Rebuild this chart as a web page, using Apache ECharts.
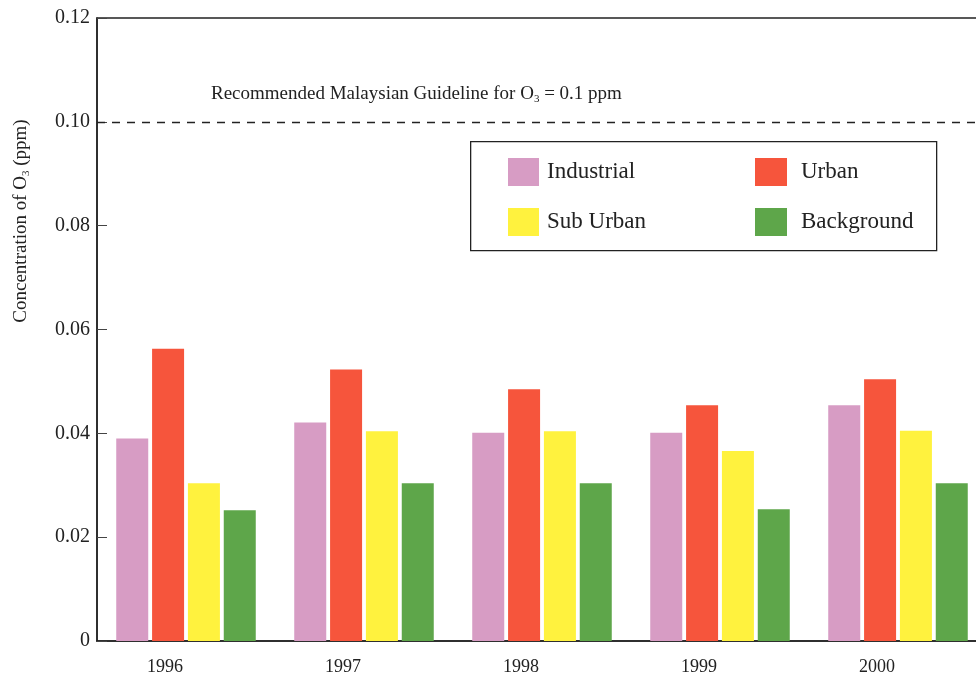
<!DOCTYPE html>
<html>
<head>
<meta charset="utf-8">
<script src="https://cdn.jsdelivr.net/npm/echarts@6/dist/echarts.min.js"></script>
<style>
html,body{margin:0;padding:0;background:#fff;}
#c{width:976px;height:686px;}
</style>
</head>
<body>
<div id="c"></div>
<script>
const years = ['1996', '1997', '1998', '1999', '2000'];
const industrial = [0.039, 0.0421, 0.0401, 0.0401, 0.0454];
const urban = [0.0563, 0.0523, 0.0485, 0.0454, 0.0504];
const subUrban = [0.0304, 0.0404, 0.0404, 0.0366, 0.0405];
const background = [0.0252, 0.0304, 0.0304, 0.0254, 0.0304];
const guideline = 0.1;
const yTicks = [0, 0.02, 0.04, 0.06, 0.08, 0.10, 0.12];

const FONT = '"Liberation Serif", "Times New Roman", serif';
const chart = echarts.init(document.getElementById('c'));

function bar(name, data, color) {
  return {
    name: name, type: 'bar', data: data,
    barWidth: 32, barGap: '12%',
    itemStyle: { color: color },
    emphasis: { disabled: true }
  };
}

const series = [
  bar('Industrial', industrial, '#d79cc4'),
  bar('Urban', urban, '#f6553c'),
  bar('Sub Urban', subUrban, '#fff23e'),
  bar('Background', background, '#5ea64a')
];
series[0].markLine = {
  silent: true, symbol: 'none',
  lineStyle: { color: '#222', type: [8, 7], width: 1.4 },
  label: { show: false },
  data: [{ yAxis: guideline }]
};

chart.setOption({
  animation: false,
  backgroundColor: '#fff',
  textStyle: { fontFamily: FONT },
  grid: {
    left: 97, top: 18, width: 890, height: 623,
    outerBoundsMode: 'none', containLabel: false,
    show: true, borderColor: '#222', borderWidth: 1.5, backgroundColor: 'transparent'
  },
  xAxis: {
    type: 'category', data: years,
    axisLine: { lineStyle: { color: '#222', width: 1.5 } },
    axisTick: { inside: true, length: 9, lineStyle: { color: '#222', width: 1.3 } },
    axisLabel: { color: '#222', fontFamily: FONT, fontSize: 18, margin: 17, padding: [0, 42, 0, 0] }
  },
  yAxis: {
    type: 'value', min: 0, max: 0.12, interval: 0.02,
    splitLine: { show: false },
    axisLine: { show: true, lineStyle: { color: '#222', width: 1.5 } },
    axisTick: { show: true, inside: true, length: 10, lineStyle: { color: '#444', width: 1 } },
    axisLabel: {
      color: '#222', fontFamily: FONT, fontSize: 20, margin: 7,
      formatter: function (v) {
        const t = yTicks.find(x => Math.abs(x - v) < 1e-9);
        return t === 0 ? '0' : v.toFixed(2);
      }
    }
  },
  legend: [
    {
      data: ['Industrial', 'Sub Urban'], orient: 'vertical', left: 503, top: 153,
      itemWidth: 31, itemHeight: 28, itemGap: 22, icon: 'rect',
      selectedMode: false,
      textStyle: { fontFamily: FONT, fontSize: 23, color: '#222', padding: [0, 0, 0, 3] }
    },
    {
      data: ['Urban', 'Background'], orient: 'vertical', left: 750, top: 153,
      itemWidth: 32, itemHeight: 28, itemGap: 22, icon: 'rect',
      selectedMode: false,
      textStyle: { fontFamily: FONT, fontSize: 23, color: '#222', padding: [0, 0, 0, 9] }
    }
  ],
  graphic: [
    {
      type: 'rect', left: 470, top: 141,
      shape: { width: 466, height: 109 },
      style: { fill: 'transparent', stroke: '#222', lineWidth: 1.3 }, z: 1
    },
    {
      type: 'text', left: 211, top: 85,
      style: {
        text: 'Recommended Malaysian Guideline for O{s|3} = 0.1 ppm',
        fontFamily: FONT, fontSize: 19, fill: '#222',
        rich: { s: { fontSize: 11, fontFamily: FONT, fill: '#222', padding: [10, 0, 0, 0] } }
      }
    },
    {
      type: 'text', x: 21, y: 221, rotation: Math.PI / 2,
      style: {
        text: 'Concentration of O{s|3} (ppm)',
        fontFamily: FONT, fontSize: 19, fill: '#222',
        align: 'center', verticalAlign: 'middle',
        rich: { s: { fontSize: 11, fontFamily: FONT, fill: '#222', padding: [10, 0, 0, 0] } }
      }
    }
  ],
  series: series
});
</script>
</body>
</html>
